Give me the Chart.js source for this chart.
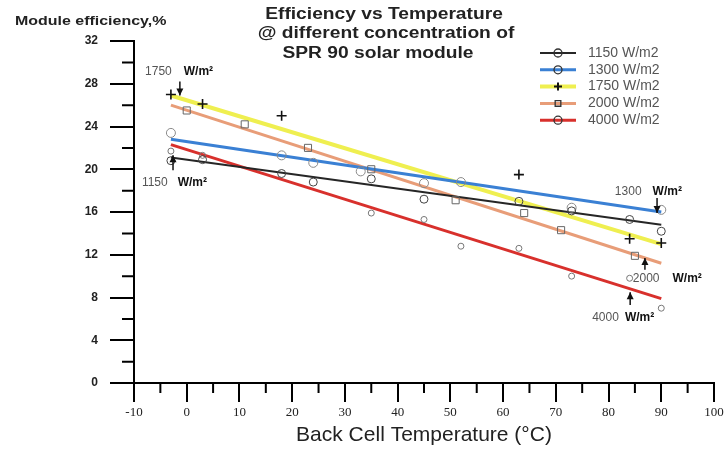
<!DOCTYPE html>
<html>
<head>
<meta charset="utf-8">
<script src="https://cdn.jsdelivr.net/npm/chart.js@4.4.1/dist/chart.umd.min.js"></script>
<style>
  html, body { margin: 0; padding: 0; background: #fff; }
</style>
</head>
<body>
<canvas id="c" width="728" height="450"></canvas>
<script>
// --- data ---
const seriesNames = ['1150 W/m2', '1300 W/m2', '1750 W/m2', '2000 W/m2', '4000 W/m2'];
const fitX = [-3, 90];
const fit1150 = [21.1, 14.8];
const fit1300 = [22.8, 16.0];
const fit1750 = [26.9, 13.0];
const fit2000 = [26.0, 11.2];
const fit4000 = [22.3, 7.9];

const pts1150 = [[-3, 20.8], [3, 20.9], [18, 19.6], [24, 18.8], [35, 19.1], [45, 17.2], [63, 17.0], [73, 16.1], [84, 15.3], [90, 14.2]];
const pts1300 = [[-3, 23.4], [18, 21.3], [24, 20.6], [33, 19.8], [45, 18.7], [52, 18.8], [73, 16.4], [90, 16.2]];
const pts1750 = [[-3, 27.0], [3, 26.1], [18, 25.0], [63, 19.5], [84, 13.5], [90, 13.1]];
const pts2000 = [[0, 25.5], [11, 24.2], [23, 22.0], [35, 20.0], [51, 17.1], [64, 15.9], [71, 14.3], [85, 11.9]];
const pts4000 = [[-3, 21.7], [3, 21.3], [35, 15.9], [45, 15.3], [52, 12.8], [63, 12.6], [73, 10.0], [84, 9.8], [90, 7.0]];

const xTicks = [-10, 0, 10, 20, 30, 40, 50, 60, 70, 80, 90, 100];
const yTicks = [0, 4, 8, 12, 16, 20, 24, 28, 32];

// annotation labels: number, where the text starts, arrow x and its from/to values
const notes = [
  { num: '1750', x: -7.9, y: 29.1, gap: 12, ax: -1.3, from: 28.2, to: 26.9 },
  { num: '1150', x: -8.5, y: 18.7, gap: 10, ax: -2.6, from: 19.9, to: 21.3 },
  { num: '1300', x: 81.2, y: 17.9, gap: 11, ax: 89.2, from: 17.3, to: 15.9 },
  { num: '2000', x: 84.6, y: 9.8, gap: 13, ax: 86.9, from: 10.6, to: 11.7 },
  { num: '4000', x: 76.9, y: 6.1, gap: 6, ax: 84.1, from: 7.3, to: 8.5 },
];

const SANS = "'Liberation Sans', Arial, sans-serif";
const SERIF = "'Liberation Serif', 'Times New Roman', serif";

const styles = [
  { color: '#262626', width: 2, point: 'circle', r: 4, edge: '#444' },
  { color: '#3a80d4', width: 3, point: 'circle', r: 4.5, edge: '#8a8a8a' },
  { color: '#efef50', width: 4, point: 'cross', r: 5, edge: '#111' },
  { color: '#e89d78', width: 3, point: 'rect', r: 5, edge: '#666' },
  { color: '#d8302c', width: 3, point: 'circle', r: 3, edge: '#777' },
];
const fits = [fit1150, fit1300, fit1750, fit2000, fit4000];
const pts = [pts1150, pts1300, pts1750, pts2000, pts4000];

const datasets = [];
fits.forEach((f, i) => {
  datasets.push({
    label: seriesNames[i],
    data: fitX.map((x, k) => ({ x, y: f[k] })),
    showLine: true,
    borderColor: styles[i].color,
    borderWidth: styles[i].width,
    pointRadius: 0,
    order: 2,
  });
});
pts.forEach((p, i) => {
  datasets.push({
    label: seriesNames[i] + ' data',
    data: p.map(([x, y]) => ({ x, y })),
    showLine: false,
    pointStyle: styles[i].point,
    pointRadius: styles[i].r,
    pointBorderColor: styles[i].edge,
    pointBackgroundColor: 'rgba(255,255,255,0)',
    pointBorderWidth: styles[i].point === 'cross' ? 1.6 : 1,
    order: 1,
  });
});

function stretchText(ctx, text, x, y, sx, align) {
  ctx.save();
  ctx.translate(x, y);
  ctx.scale(sx, 1);
  ctx.textAlign = align;
  ctx.fillText(text, 0, 0);
  ctx.restore();
}

const decor = {
  id: 'decor',
  afterDraw(chart) {
    const { ctx, scales: { x, y } } = chart;
    ctx.save();
    ctx.textBaseline = 'middle';

    // title
    ctx.fillStyle = '#222';
    ctx.font = `bold 16px ${SANS}`;
    stretchText(ctx, 'Efficiency vs Temperature', 384, 15, 1.2, 'center');
    stretchText(ctx, '@ different concentration of', 386, 34, 1.2, 'center');
    stretchText(ctx, 'SPR 90 solar module', 378, 54, 1.2, 'center');

    // y axis title
    ctx.font = `bold 12px ${SANS}`;
    stretchText(ctx, 'Module efficiency,%', 15, 22, 1.33, 'left');

    // minor ticks
    ctx.strokeStyle = '#000';
    ctx.lineWidth = 2;
    ctx.beginPath();
    for (let v = 2; v < 32; v += 4) {
      const py = y.getPixelForValue(v);
      ctx.moveTo(x.left - 12, py);
      ctx.lineTo(x.left, py);
    }
    for (let v = -5; v < 100; v += 10) {
      const px = x.getPixelForValue(v);
      ctx.moveTo(px, y.bottom);
      ctx.lineTo(px, y.bottom + 10);
    }
    ctx.stroke();

    // annotations
    notes.forEach(n => {
      const px = x.getPixelForValue(n.x);
      const py = y.getPixelForValue(n.y);
      ctx.textAlign = 'left';
      ctx.fillStyle = '#555';
      ctx.font = `12px ${SANS}`;
      ctx.fillText(n.num, px, py);
      const w = ctx.measureText(n.num).width;
      ctx.fillStyle = '#111';
      ctx.font = `bold 12px ${SANS}`;
      ctx.fillText('W/m²', px + w + n.gap, py);

      const ax = x.getPixelForValue(n.ax);
      const y1 = y.getPixelForValue(n.from);
      const y2 = y.getPixelForValue(n.to);
      const dir = y2 > y1 ? 1 : -1;
      ctx.strokeStyle = '#111';
      ctx.fillStyle = '#111';
      ctx.lineWidth = 1.5;
      ctx.beginPath();
      ctx.moveTo(ax, y1);
      ctx.lineTo(ax, y2);
      ctx.stroke();
      ctx.beginPath();
      ctx.moveTo(ax, y2);
      ctx.lineTo(ax - 3.5, y2 - dir * 7);
      ctx.lineTo(ax + 3.5, y2 - dir * 7);
      ctx.closePath();
      ctx.fill();
    });

    // legend
    seriesNames.forEach((name, i) => {
      const ly = 53 + i * 16.8;
      const s = styles[i];
      ctx.strokeStyle = s.color;
      ctx.lineWidth = s.width;
      ctx.beginPath();
      ctx.moveTo(540, ly);
      ctx.lineTo(576, ly);
      ctx.stroke();
      ctx.strokeStyle = i === 2 ? '#111' : '#333';
      ctx.fillStyle = 'rgba(255,255,255,0)';
      ctx.lineWidth = i === 2 ? 2 : 1.3;
      Chart.helpers.drawPoint(ctx, { pointStyle: s.point, radius: 4, rotation: 0, borderWidth: ctx.lineWidth }, 558, ly);
      ctx.fillStyle = '#555';
      ctx.font = `14px ${SANS}`;
      ctx.textAlign = 'left';
      ctx.fillText(name, 588, ly);
    });
    ctx.restore();
  }
};

new Chart(document.getElementById('c'), {
  type: 'scatter',
  data: { datasets },
  options: {
    responsive: false,
    animation: false,
    devicePixelRatio: 1,
    layout: { padding: { top: 41, right: 14, left: 0, bottom: 0 } },
    scales: {
      x: {
        type: 'linear',
        min: -10,
        max: 100,
        afterBuildTicks: s => { s.ticks = xTicks.map(v => ({ value: v })); },
        afterFit: s => { s.height = 67; },
        ticks: { color: '#222', font: { family: SERIF, size: 13 }, padding: 3, maxRotation: 0, autoSkip: false },
        grid: { drawOnChartArea: false, color: '#000', lineWidth: 2, tickLength: 19 },
        border: { color: '#000', width: 2 },
        title: { display: true, text: 'Back Cell Temperature (°C)', color: '#222', font: { family: SANS, size: 21 }, padding: { top: 0, bottom: 2 } },
      },
      y: {
        min: 0,
        max: 32,
        afterBuildTicks: s => { s.ticks = yTicks.map(v => ({ value: v })); },
        afterFit: s => { s.width = 134; },
        ticks: { color: '#222', font: { family: SANS, size: 12, weight: 'bold' }, padding: 12 },
        grid: { drawOnChartArea: false, color: '#000', lineWidth: 2, tickLength: 24 },
        border: { color: '#000', width: 2 },
      },
    },
    plugins: {
      legend: { display: false },
      tooltip: { enabled: false },
    },
  },
  plugins: [decor],
});
</script>
</body>
</html>
